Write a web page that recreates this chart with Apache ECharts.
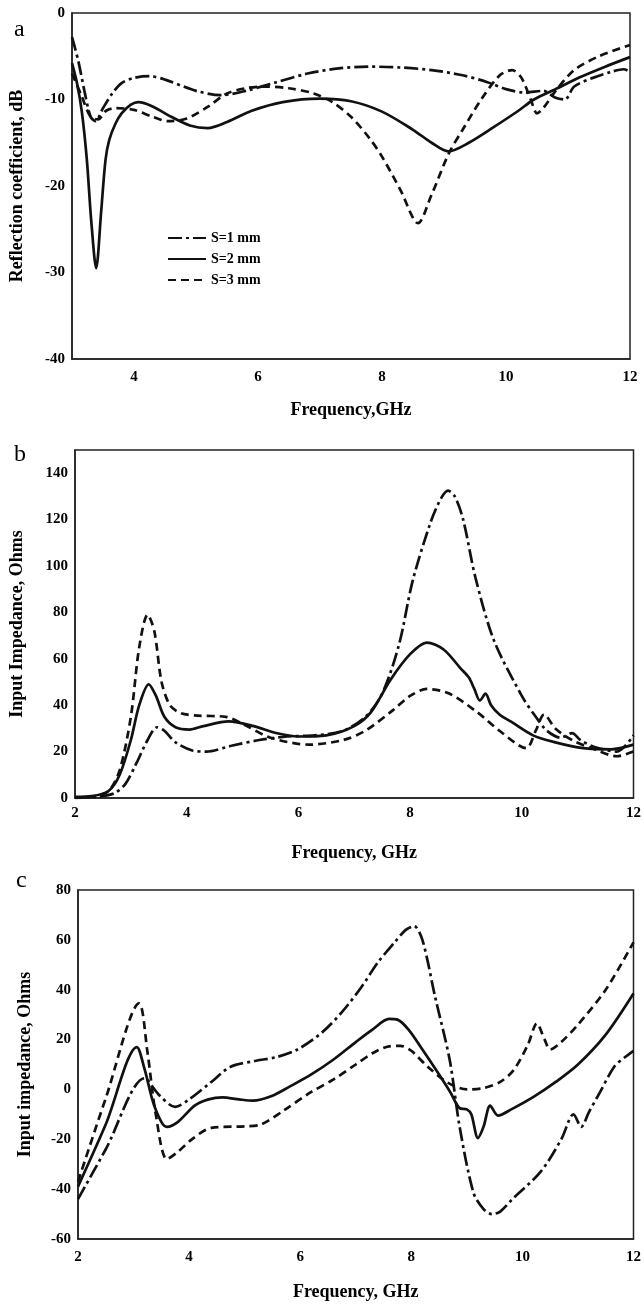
<!DOCTYPE html>
<html><head><meta charset="utf-8">
<script src="https://cdn.jsdelivr.net/npm/echarts@6/dist/echarts.min.js"></script>
<style>html,body{margin:0;padding:0;background:#fff}#c{width:644px;height:1305px}</style>
</head><body><div id="c"></div>
<script>
const FONT = '"Liberation Serif", "Times New Roman", serif';
const seriesNames = ['S=1 mm', 'S=2 mm', 'S=3 mm'];
const panelLetters = ['a', 'b', 'c'];
const yNames = ['Reflection coefficient, dB', 'Input Impedance, Ohms', 'Input impedance, Ohms'];
const xNames = ['Frequency,GHz', 'Frequency, GHz', 'Frequency, GHz'];

// Panel a: reflection coefficient (dB)
const freqA1 = [3.0,3.1,3.2,3.3,3.38,3.5,3.65,3.8,4.0,4.25,4.5,5.0,5.4,5.8,6.3,6.8,7.3,7.8,8.3,8.8,9.3,9.7,10.0,10.3,10.6,10.8,10.95,11.1,11.4,11.7,11.9,12.0];
const valsA1 = [-2.8,-5.5,-9,-12,-12.5,-11,-9.3,-8.1,-7.5,-7.3,-7.7,-9,-9.5,-9,-8,-7,-6.4,-6.2,-6.3,-6.6,-7.2,-8,-8.8,-9.2,-9,-9.8,-10,-8.5,-7.5,-6.8,-6.5,-6.8];
const freqA2 = [3.0,3.08,3.16,3.24,3.31,3.39,3.47,3.54,3.6,3.7,3.8,3.95,4.07,4.3,4.6,4.9,5.19,5.5,5.9,6.4,7.0,7.5,8.0,8.5,8.8,9.07,9.4,9.8,10.2,10.45,10.8,11.2,11.6,12.0];
const valsA2 = [-5.8,-8.1,-11.5,-17,-24,-29.5,-23,-17,-14.7,-12.8,-11.6,-10.6,-10.3,-10.8,-12,-13,-13.3,-12.6,-11.3,-10.3,-9.9,-10.2,-11.4,-13.5,-15,-16,-15,-13.2,-11.3,-10,-8.8,-7.4,-6.2,-5.1];
const freqA3 = [3.0,3.15,3.3,3.42,3.55,3.7,4.0,4.3,4.55,4.85,5.2,5.5,5.8,6.1,6.5,6.9,7.2,7.5,7.8,8.0,8.3,8.58,8.8,9.08,9.3,9.6,9.9,10.1,10.25,10.4,10.5,10.6,10.8,11.1,11.5,12.0];
const valsA3 = [-7,-9.5,-12,-12.3,-11.3,-11,-11.2,-12,-12.5,-12.2,-10.8,-9.3,-8.7,-8.5,-8.7,-9.3,-10.3,-12,-14.5,-16.6,-20.5,-24.3,-21,-16.2,-13.5,-10,-7.2,-6.6,-7.5,-10,-11.6,-11,-9,-6.6,-5,-3.7];

// Panel b: input impedance (real part)
const freqB1 = [2.0,2.4,2.7,2.9,3.1,3.3,3.47,3.6,3.8,4.1,4.35,4.8,5.3,5.8,6.3,6.8,7.2,7.5,7.8,8.05,8.37,8.55,8.68,8.8,8.95,9.17,9.5,10.0,10.25,10.45,10.7,10.9,11.05,11.3,11.7,12.0];
const valsB1 = [0,0.5,2,6,15,25,30.5,29,24,20.5,20,22.5,25,26.5,27,29,35,45,66,94,119,129,132.5,130,120,95,68,44,35,29,26,28,25,22,20,27];
const freqB2 = [2.0,2.3,2.6,2.8,3.0,3.15,3.32,3.45,3.6,3.8,4.05,4.3,4.75,5.2,5.6,6.0,6.5,7.0,7.3,7.65,8.0,8.3,8.6,8.9,9.05,9.15,9.25,9.35,9.45,9.6,9.8,10.2,10.6,11.1,11.6,12.0];
const valsB2 = [0.5,0.8,3,10,25,40,49,44,35,30.5,29.5,31,33,31,28,26.5,27,31,37,51,62,67,64,56,52,47,42,45,40,36,33,27,24,21.5,21,23];
const freqB3 = [2.0,2.3,2.6,2.8,3.0,3.15,3.3,3.42,3.55,3.7,3.9,4.2,4.7,5.0,5.5,6.2,6.8,7.2,7.7,8.0,8.3,8.7,9.2,9.6,10.08,10.25,10.4,10.6,10.9,11.3,11.7,12.0];
const valsB3 = [0,0.5,3,12,35,65,79,72,50,40,36.5,35.5,35,32,26,23,25,29,38,44,47,45,37,29,21.5,29,36,30,25,21,18,20];

// Panel c: input impedance (imaginary part)
const freqC1 = [2.0,2.5,3.2,3.45,3.75,4.0,4.4,4.74,5.2,5.58,5.95,6.4,6.75,7.1,7.4,7.7,7.9,8.05,8.2,8.43,8.69,8.87,9.12,9.3,9.45,9.6,9.82,10.33,10.7,10.92,11.06,11.2,11.4,11.65,11.85,12.0];
const valsC1 = [-44,-24,4.5,-2,-7,-4,3,9,11.5,13,16,23,31,41,51,59,64,65.5,60,37,12,-15,-41.5,-48,-50,-49,-44,-33,-20,-10,-15,-9,-1,9,13,15.5];
const freqC2 = [2.0,2.5,3.06,3.2,3.35,3.5,3.6,3.8,4.1,4.35,4.6,4.9,5.15,5.5,5.8,6.2,6.6,7.0,7.3,7.6,7.75,7.95,8.2,8.5,8.7,8.87,9.0,9.08,9.2,9.3,9.42,9.56,9.8,10.2,10.6,11.0,11.5,12.0];
const valsC2 = [-39,-14,17,8,-5,-13,-15,-13,-6.5,-4,-3.2,-4,-4.5,-2.5,1,6,12,19,24,28.3,28,24,16,6,-1,-7.5,-8,-10,-19.5,-15,-6.5,-10.5,-8,-3,3,10,22,38.5];
const freqC3 = [2.0,2.5,3.1,3.25,3.4,3.6,3.8,4.05,4.4,5.0,5.3,5.7,6.2,6.6,7.0,7.3,7.6,7.8,8.0,8.3,8.65,9.0,9.3,9.6,9.85,10.1,10.26,10.4,10.5,10.7,11.0,11.5,12.0];
const valsC3 = [-37,-3.5,34.5,15,-10,-28,-25,-20,-15.4,-14.8,-14,-8.5,-1,4,10,14.5,17.3,17.5,15.5,9,2.8,0,0.5,3,8,18,26.5,20,16,19,26,40,59];

const dashS1 = [14, 4, 3, 4];
const dashS3 = [8, 5];
const LINE = '#111';

function mk(name, fx, vy, idx, dash) {
  return {
    name: name, type: 'line', xAxisIndex: idx, yAxisIndex: idx,
    data: fx.map((f, i) => [f, vy[i]]),
    symbol: 'none', showSymbol: false, smooth: 0.3,
    lineStyle: { color: LINE, width: 2.7, type: dash },
    itemStyle: { color: LINE },
    silent: true
  };
}

const grids = [
  { left: 69, right: 14, top: 13, height: 346 },
  { left: 70, right: 7, top: 450, height: 348 },
  { left: 78, right: 4, top: 890, height: 349 }
].map(g => Object.assign(g, { show: true, borderColor: '#222', borderWidth: 1.5, backgroundColor: 'transparent', containLabel: false }));

const labelStyle = { color: '#000', fontFamily: FONT, fontWeight: 'bold', fontSize: 15 };
const nameStyle = { color: '#000', fontFamily: FONT, fontWeight: 'bold', fontSize: 18 };

function xAx(idx, min, max, interval, gap, margin, fmt) {
  return {
    type: 'value', gridIndex: idx, min: min, max: max, interval: interval,
    name: xNames[idx], nameLocation: 'middle', nameGap: gap, nameTextStyle: nameStyle,
    axisLine: { show: true, onZero: false, lineStyle: { color: '#222', width: 1.5 } },
    axisTick: { show: false }, splitLine: { show: false },
    axisLabel: Object.assign({ margin: margin, formatter: fmt || (v => String(v)) }, labelStyle)
  };
}
function yAx(idx, min, max, interval, gap, extra) {
  return {
    type: 'value', gridIndex: idx, min: min, max: max, interval: interval,
    name: yNames[idx], nameLocation: 'middle', nameGap: gap, nameTextStyle: nameStyle,
    axisLine: { show: true, onZero: false, lineStyle: { color: '#222', width: 1.5 } },
    axisTick: { show: false }, splitLine: { show: false },
    axisLabel: Object.assign({ margin: 7 }, labelStyle, extra || {})
  };
}

const option = {
  animation: false,
  backgroundColor: '#fff',
  grid: grids,
  xAxis: [
    xAx(0, 3, 12, 1, 42, 11, v => (v % 2 === 0 ? String(v) : '')),
    xAx(1, 2, 12, 2, 46, 8),
    xAx(2, 2, 12, 2, 44, 11)
  ],
  yAxis: [
    yAx(0, -40, 0, 10, 46),
    yAx(1, 0, 150, 20, 49, { showMaxLabel: false }),
    yAx(2, -60, 80, 20, 44)
  ],
  legend: {
    orient: 'vertical', left: 162, top: 226, itemWidth: 38, itemHeight: 14, itemGap: 7,
    data: seriesNames,
    textStyle: { color: '#000', fontFamily: FONT, fontWeight: 'bold', fontSize: 14 },
    itemStyle: { opacity: 0 },
    selectedMode: false
  },
  graphic: panelLetters.map((t, i) => ({
    type: 'text', x: [14, 14, 16][i], y: [42, 467, 893][i],
    style: { text: t, font: '24px ' + FONT, fill: '#000', verticalAlign: 'bottom' }
  })),
  series: [
    mk(seriesNames[0], freqA1, valsA1, 0, dashS1),
    mk(seriesNames[1], freqA2, valsA2, 0, 'solid'),
    mk(seriesNames[2], freqA3, valsA3, 0, dashS3),
    mk(seriesNames[0], freqB1, valsB1, 1, dashS1),
    mk(seriesNames[1], freqB2, valsB2, 1, 'solid'),
    mk(seriesNames[2], freqB3, valsB3, 1, dashS3),
    mk(seriesNames[0], freqC1, valsC1, 2, dashS1),
    mk(seriesNames[1], freqC2, valsC2, 2, 'solid'),
    mk(seriesNames[2], freqC3, valsC3, 2, dashS3)
  ]
};

const chart = echarts.init(document.getElementById('c'), null, { renderer: 'canvas' });
chart.setOption(option);
</script>
</body></html>
